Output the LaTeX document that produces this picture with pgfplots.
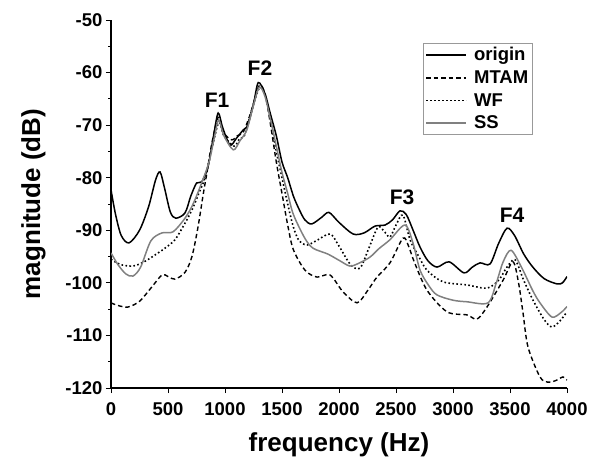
\documentclass[border=0pt]{standalone}
\usepackage{pgfplots}
\pgfplotsset{compat=1.18}
\usepackage{fontspec}
\setmainfont{Liberation Sans}
\begin{document}
\begin{tikzpicture}[x=1pt,y=1pt]
\path[use as bounding box] (0,0) rectangle (600,459);
\begin{axis}[
  at={(111pt,71pt)}, anchor=south west,
  scale only axis, width=456pt, height=368pt,
  xmin=0, xmax=4000, ymin=-120, ymax=-50,
  axis x line*=bottom, axis y line*=left,
  axis line style={-, line width=1.1pt},
  xtick={0,500,...,4000}, ytick={-120,-110,...,-50},
  minor y tick num=1,
  tick align=outside,
  major tick length=5pt, minor tick length=3pt,
  tick style={black, line width=1pt},
  /pgf/number format/assume math mode=true,
  /pgf/number format/set thousands separator={},
  ticklabel style={font=\fontsize{18.5}{20}\selectfont\bfseries},
  xticklabel style={yshift=-6pt},
  yticklabel style={xshift=0pt},
  xlabel={frequency (Hz)}, ylabel={magnitude (dB)},
  label style={font=\fontsize{26}{28}\selectfont\bfseries},
  xlabel style={yshift=-10pt},
  ylabel style={yshift=13pt},
  legend style={at={(0.684,0.9375)}, anchor=north west, draw=gray!80,
    font=\fontsize{18.5}{19}\selectfont\bfseries, row sep=4.5pt, inner sep=2pt,
    cells={anchor=west}},
  legend image code/.code={\draw[#1] (0pt,0pt) -- (40pt,0pt); \path (45pt,0pt);},
  every axis plot/.append style={smooth, tension=0.5},
]
\addplot[black, line width=1.5pt, legend image post style={line width=2pt}] coordinates {
(0,-82.3) (40,-87) (90,-91) (158,-92.4) (250,-90) (330,-85.5) (390,-80.5) (430,-78.9) (470,-82) (520,-86.5) (568,-87.7) (649,-86.7) (700,-83.5) (751,-81) (795,-80.8) (850,-78) (900,-72) (940,-67.7) (980,-70.5) (1044,-73.8) (1100,-72.5) (1160,-70.9) (1200,-70) (1250,-66) (1292,-61.9) (1350,-64) (1400,-68) (1450,-72) (1500,-77) (1550,-80) (1600,-83.5) (1650,-86) (1700,-88) (1760,-88.8) (1850,-87.5) (1912,-86.6) (2000,-88.5) (2123,-90.7) (2220,-90.5) (2316,-89.2) (2404,-89) (2470,-88) (2535,-86.3) (2590,-87) (2650,-90) (2711,-93.2) (2780,-95.8) (2860,-97) (2966,-96) (3096,-98.1) (3170,-97) (3237,-96.2) (3325,-96.4) (3400,-92.5) (3474,-89.6) (3540,-91) (3620,-94.5) (3700,-97) (3800,-99.2) (3912,-100.2) (3960,-100) (4000,-98.8)};
\addlegendentry{origin}
\addplot[black, line width=1.4pt, dash pattern=on 4.5pt off 3pt, legend image post style={line width=1.8pt}] coordinates {
(0,-103.8) (60,-104.3) (149,-104.6) (250,-103.5) (350,-101) (447,-98.5) (500,-98.8) (561,-99.3) (649,-98) (710,-95) (763,-89.4) (810,-83) (842,-79) (880,-74) (940,-68.5) (990,-71.5) (1060,-72.8) (1110,-72) (1160,-71.3) (1220,-68) (1300,-62.5) (1350,-64) (1400,-70) (1450,-77) (1500,-83) (1550,-89) (1600,-93.7) (1702,-97.6) (1807,-98.9) (1921,-98.5) (2035,-101.7) (2158,-103.8) (2250,-101.5) (2333,-98.9) (2447,-96.2) (2561,-91.5) (2610,-93) (2660,-96) (2772,-101.4) (2947,-105.5) (3123,-106.1) (3210,-106.9) (3298,-104.6) (3439,-99.5) (3526,-96) (3575,-100) (3614,-105.7) (3658,-112.2) (3763,-117.9) (3833,-118.9) (3900,-118.6) (3965,-117.9) (4000,-118.5)};
\addlegendentry{MTAM}
\addplot[black, line width=1.6pt, dash pattern=on 1.6pt off 2.4pt, legend image post style={line width=1.8pt}] coordinates {
(0,-95.5) (80,-96.5) (193,-96.8) (290,-96) (386,-94.7) (480,-93.3) (561,-91.8) (640,-89) (711,-86.1) (770,-83) (825,-80) (880,-75) (945,-69.5) (990,-72) (1080,-74) (1130,-72.5) (1170,-72) (1230,-67.5) (1300,-63) (1350,-64) (1400,-69) (1450,-75) (1500,-80) (1550,-85) (1600,-89.4) (1650,-92) (1719,-92.8) (1800,-92) (1921,-90.7) (2000,-93) (2100,-96.5) (2184,-97.2) (2260,-93.5) (2342,-89.4) (2400,-90.3) (2447,-91.3) (2500,-89) (2561,-87.1) (2623,-91.8) (2700,-95) (2772,-97.6) (2912,-99.8) (3123,-100.4) (3298,-101) (3400,-99.5) (3474,-97) (3544,-95.6) (3620,-99.5) (3702,-103.3) (3800,-107) (3868,-108.4) (3940,-107.2) (4000,-105.5)};
\addlegendentry{WF}
\addplot[gray, line width=1.5pt, legend image post style={line width=2pt}] coordinates {
(0,-94.3) (60,-96.5) (130,-98.3) (193,-98.7) (260,-97) (350,-92) (447,-90.5) (544,-90.3) (649,-87.7) (720,-85) (795,-81) (860,-77) (910,-72) (945,-69) (990,-72) (1073,-74.7) (1130,-73) (1190,-71) (1240,-67) (1300,-62.8) (1350,-64.5) (1400,-69) (1450,-74) (1500,-79) (1550,-83) (1600,-87) (1700,-91.5) (1772,-93.4) (1900,-94.5) (2000,-95.7) (2096,-96.8) (2180,-96.2) (2272,-95.1) (2350,-93.5) (2447,-91.8) (2579,-89) (2650,-92.5) (2711,-97.6) (2790,-100.6) (2860,-102.3) (3000,-103.3) (3123,-103.6) (3307,-103.8) (3380,-100) (3440,-96) (3509,-93.8) (3600,-97) (3700,-101.5) (3763,-103.8) (3868,-106.5) (3950,-105.6) (4000,-104.5)};
\addlegendentry{SS}
\node[font=\fontsize{21}{22}\selectfont\bfseries] at (axis cs:930,-65.2) {F1};
\node[font=\fontsize{21}{22}\selectfont\bfseries] at (axis cs:1307,-59.1) {F2};
\node[font=\fontsize{21}{22}\selectfont\bfseries] at (axis cs:2553,-83.7) {F3};
\node[font=\fontsize{21}{22}\selectfont\bfseries] at (axis cs:3518,-87.1) {F4};
\end{axis}
\end{tikzpicture}
\end{document}
